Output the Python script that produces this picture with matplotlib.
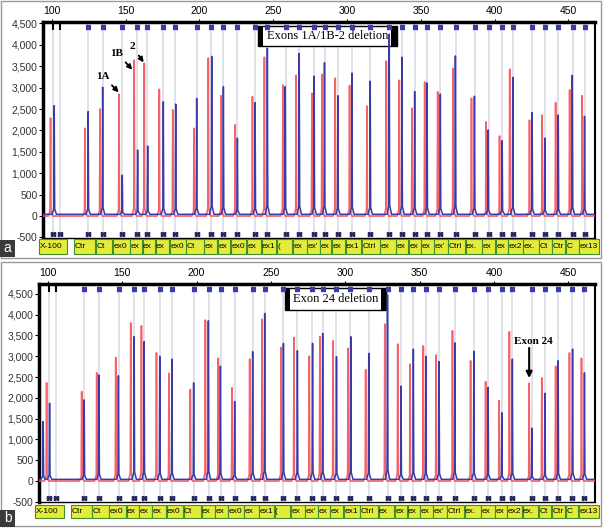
import matplotlib
matplotlib.use("Agg")
import matplotlib.pyplot as plt
from matplotlib.patches import Rectangle
from matplotlib.ticker import FuncFormatter
from matplotlib.transforms import blended_transform_factory

# ----------------------------
# DATA
# ----------------------------
probe_bp = [101, 105.5, 124.5, 134.4, 147.5, 157.8, 164.6, 175.4, 183.7, 198.1, 208.1,
            216.1, 225.7, 237.7, 245.9, 258.3, 267.7, 277.9, 284.8, 294.0, 303.5, 315.8,
            328.5, 337.4, 345.8, 354.2, 363.2, 373.6, 386.4, 395.9, 405.2, 412.4, 425.5,
            434.2, 443.2, 452.8, 460.9]
box_labels = ["X-100", "Ctr", "Ct", "ex0", "ex0", "ex", "ex", "ex05", "Ct", "ex", "ex",
              "ex0", "ex", "ex1", "(", "ex", "ex'", "ex", "ex", "ex1", "Ctrl", "ex", "ex",
              "ex", "ex", "ex'", "Ctrl", "ex.", "ex", "ex", "ex2", "ex.", "Ct", "Ctr", "C",
              "ex13"]

# panel a : Exons 1A/1B-2 deletion
a_red_pos = [99.1, 122.4, 132.6, 145.5, 155.8, 162.6, 172.8, 181.9, 196.3, 206.0, 214.7,
             224.2, 235.9, 244.0, 256.5, 265.5, 276.2, 283.0, 292.0, 301.7, 313.5, 326.6,
             335.4, 344.0, 352.6, 361.4, 371.8, 384.3, 394.2, 403.3, 410.2, 423.6, 432.2,
             441.3, 450.8, 459.3]
a_red_h = [2290, 2050, 2500, 2850, 3640, 3570, 2960, 2480, 2050, 3690, 2810, 2130, 2790,
           3710, 3060, 3290, 2870, 3310, 3220, 3050, 2570, 3620, 3170, 2520, 3130, 2900,
           3450, 2750, 2200, 1870, 3430, 2240, 2360, 2650, 2950, 2810]
a_blue_pos = [101.6, 124.6, 134.4, 147.7, 158.1, 164.9, 175.5, 183.9, 198.1, 208.3, 216.2,
              225.7, 237.7, 246.0, 258.1, 267.6, 277.7, 284.7, 293.8, 303.3, 315.7, 328.6,
              337.2, 345.8, 354.2, 363.2, 373.4, 386.3, 395.6, 405.1, 412.3, 425.4, 434.0,
              443.1, 452.6, 460.9]
a_blue_h = [2577, 2440, 3010, 955, 1540, 1635, 2670, 2615, 2750, 3730, 3020, 1820, 2650,
            3920, 3020, 3800, 3270, 3580, 2810, 3340, 3150, 4250, 3710, 2910, 3110, 2850,
            3740, 2800, 2010, 1760, 3240, 2420, 1820, 2360, 3290, 2330]

# panel b : Exon 24 deletion
b_red_pos = [99.1, 122.7, 132.8, 145.6, 155.7, 162.9, 173.0, 181.4, 195.8, 205.9, 214.6,
             223.8, 235.7, 244.0, 256.8, 265.5, 275.8, 282.9, 291.8, 301.9, 313.7, 326.6,
             335.3, 343.6, 352.5, 361.1, 372.1, 384.3, 394.4, 403.5, 410.4, 423.7, 432.2,
             441.5, 450.8, 458.9]
b_red_h = [2360, 2150, 2600, 2970, 3800, 3730, 3080, 2590, 2200, 3870, 2950, 2240, 2930,
           3890, 3210, 3450, 3000, 3470, 3370, 3190, 2680, 3770, 3290, 2810, 3250, 3030,
           3610, 2890, 2390, 1930, 3590, 2350, 2480, 2760, 3080, 2950]
b_blue_pos = [96.8, 101.1, 124.4, 134.3, 147.4, 158.0, 164.7, 175.2, 183.4, 198.0, 207.9,
              216.0, 225.6, 237.7, 245.8, 258.4, 267.8, 278.0, 284.8, 294.1, 303.7, 315.8,
              328.4, 337.5, 345.8, 354.2, 363.1, 373.7, 386.5, 396.1, 405.3, 412.4, 425.5,
              434.3, 443.2, 452.9, 460.9]
b_blue_h = [1430, 1870, 1950, 2550, 2530, 3470, 3350, 3000, 2930, 2360, 3850, 2760, 1910,
            3110, 4030, 3310, 3130, 3310, 3550, 2990, 3470, 3070, 4470, 2280, 3170, 3000,
            2870, 3320, 3120, 2250, 1640, 2930, 1270, 2110, 2890, 3170, 2600]

RED = "#f2525a"
BLUE = "#3a3aa8"
SANS = "Liberation Sans"
SERIF = "Liberation Serif"
XLIM = (94, 468)


def peak_trace(pos, h, base, half):
    # spike for every peak, joined along the baseline
    xs, ys = [XLIM[0]], [base]
    for p, v in zip(pos, h):
        foot = base + 0.05 * (v - base)
        xs += [p - 2 * half, p - 0.4 * half, p, p + 0.4 * half, p + 2 * half]
        ys += [base, foot, v, foot, base]
    xs.append(XLIM[1])
    ys.append(base)
    return xs, ys


def box_edges():
    # X-100 box first, then one box per probe split at the midpoints
    edges = [(91.5, 110.5)]
    pr = probe_bp[1:]
    for i in range(1, len(pr)):
        left = max((pr[i - 1] + pr[i]) / 2, edges[-1][1]) + 0.3
        right = (pr[i] + pr[i + 1]) / 2 if i + 1 < len(pr) else XLIM[1] + 2.5
        edges.append((left, right))
    return edges


def draw_panel(fig, ax, ylim, red_pos, red_h, blue_pos, blue_h, box_y, box_h):
    ax.set_xlim(*XLIM)
    ax.set_ylim(*ylim)
    ax.vlines(probe_bp, ylim[0], ylim[1], color="#dedee8", lw=1.3, zorder=1)

    rx, ry = peak_trace(red_pos, red_h, 0, 0.75)
    ax.plot(rx, ry, color=RED, lw=1.2, alpha=0.9, zorder=3)
    bx, by = peak_trace(blue_pos, blue_h, 40, 0.75)
    ax.plot(bx, by, color=BLUE, lw=1.1, zorder=4)

    # probe markers top / bottom
    tr = blended_transform_factory(ax.transData, ax.transAxes)
    ax.plot(probe_bp[2:], [0.978] * len(probe_bp[2:]), ls="none", marker=r"$\mathbf{N}$",
            ms=3, color=BLUE, transform=tr, clip_on=False, zorder=6)
    ax.plot(probe_bp[:2], [0.975] * 2, ls="none", marker="|", ms=4, mew=1.5,
            color="black", transform=tr, clip_on=False, zorder=6)
    ax.plot(probe_bp, [0.018] * len(probe_bp), ls="none", marker=r"$\mathbf{M}$",
            ms=3, color="#2a2a60", transform=tr, clip_on=False, zorder=6)

    # probe name boxes under the plot, names cut to fit their box
    renderer = fig.canvas.get_renderer()
    for (left, right), lab in zip(box_edges(), box_labels):
        rect = Rectangle((left, box_y), right - left, box_h, transform=tr,
                         fc="#e4ec3a", ec="#3f8f2f", lw=0.8, clip_on=False, zorder=6)
        ax.add_patch(rect)
        t = ax.text(left + 0.3, box_y + box_h / 2, lab, transform=tr, ha="left",
                    va="center", fontsize=6.0, family=SANS, color="black", zorder=7)
        x_right = ax.transData.transform((right, 0))[0] - 0.5
        while len(t.get_text()) > 1 and t.get_window_extent(renderer).x1 > x_right:
            t.set_text(t.get_text()[:-1])

    # axes styling
    ax.xaxis.tick_top()
    ax.set_xticks(range(100, 451, 50))
    ax.set_yticks(range(-500, 4501, 500))
    ax.yaxis.set_major_formatter(FuncFormatter(lambda v, _: f"{int(v):,}"))
    ax.tick_params(axis="x", top=True, bottom=False, length=2, pad=2, labelsize=7.5,
                   labelfontfamily=SANS)
    ax.tick_params(axis="y", length=3, pad=1, labelsize=7.5, labelcolor="#333333",
                   labelfontfamily=SANS)
    ax.spines["top"].set_linewidth(2.5)
    ax.spines["left"].set_linewidth(2.5)
    ax.spines["right"].set_linewidth(1.5)
    ax.spines["bottom"].set_linewidth(1.0)


def title_box(ax, x0, x1, y0, y1, bar_l, bar_r, text):
    ax.add_patch(Rectangle((x0, y0), x1 - x0, y1 - y0, fc="white", ec="black",
                           lw=1.0, zorder=2.5))
    ax.add_patch(Rectangle((x0, y0), bar_l, y1 - y0, fc="black", ec="none", zorder=2.6))
    ax.add_patch(Rectangle((x1 - bar_r, y0), bar_r, y1 - y0, fc="black", ec="none",
                           zorder=2.6))
    ax.text((x0 + bar_l + x1 - bar_r) / 2, (y0 + y1) / 2, text, ha="center", va="center",
            fontsize=9, family=SERIF, zorder=2.7)


fig = plt.figure(figsize=(6.05, 5.28), dpi=100)

# ----------------------------
# PANEL a
# ----------------------------
ax_a = fig.add_axes([0.0711, 0.5492, 0.9124, 0.4091])
draw_panel(fig, ax_a, (-514, 4533), a_red_pos, a_red_h, a_blue_pos, a_blue_h, -0.072, 0.066)
title_box(ax_a, 239.8, 334.1, 3972, 4439, 3.3, 4.0, "Exons 1A/1B-2 deletion")

arrow = dict(arrowstyle="-|>", color="black", lw=1.3, mutation_scale=7,
             shrinkA=2, shrinkB=0)
ax_a.annotate("1A", xy=(145.3, 2890), xytext=(134.6, 3271), ha="center", va="center",
              fontsize=8, fontweight="bold", family=SERIF, arrowprops=arrow, zorder=8)
ax_a.annotate("1B", xy=(154.5, 3420), xytext=(144.1, 3808), ha="center", va="center",
              fontsize=8, fontweight="bold", family=SERIF, arrowprops=arrow, zorder=8)
ax_a.annotate("2", xy=(162.2, 3590), xytext=(154.3, 3972), ha="center", va="center",
              fontsize=8, fontweight="bold", family=SERIF, arrowprops=arrow, zorder=8)

# ----------------------------
# PANEL b
# ----------------------------
ax_b = fig.add_axes([0.0645, 0.0492, 0.919, 0.4129])
draw_panel(fig, ax_b, (-505, 4736), b_red_pos, b_red_h, b_blue_pos, b_blue_h, -0.073, 0.06)
title_box(ax_b, 259.3, 327.3, 4111, 4639, 3.3, 3.0, "Exon 24 deletion")

ax_b.text(426.2, 3365, "Exon 24", ha="center", va="center", fontsize=8,
          fontweight="bold", family=SERIF, zorder=8)
ax_b.annotate("", xy=(423.7, 2476), xytext=(423.7, 3200),
              arrowprops=dict(arrowstyle="-|>", color="black", lw=1.5,
                              mutation_scale=9, shrinkA=0, shrinkB=0), zorder=8)

# ----------------------------
# PANEL FRAMES + LETTERS
# ----------------------------
for y0, y1 in [(1 - 258 / 528, 1 - 1 / 528), (1 - 526 / 528, 1 - 262 / 528)]:
    fig.patches.append(Rectangle((1 / 605, y0), 600 / 605, y1 - y0, transform=fig.transFigure,
                                 fill=False, ec="#9a9a9a", lw=1.0))
for letter, yb in [("a", 1 - 257 / 528), ("b", 1 - 527 / 528)]:
    fig.patches.append(Rectangle((0, yb), 15 / 605, 17 / 528, transform=fig.transFigure,
                                 fc="#3a3a3a", ec="none"))
    fig.text(7.5 / 605, yb + 8.5 / 528, letter, color="white", fontsize=10,
             family=SANS, ha="center", va="center")

fig.savefig("out.png", dpi=100)
